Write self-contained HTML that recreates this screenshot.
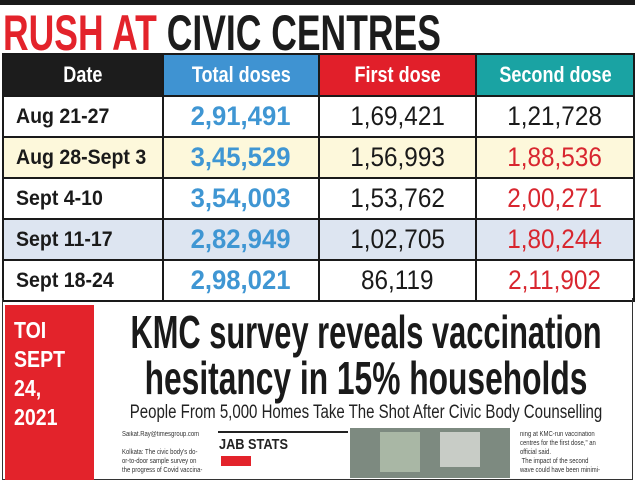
<!DOCTYPE html>
<html><head><meta charset="utf-8"><style>
*{margin:0;padding:0;box-sizing:border-box}
body{width:635px;height:482px;background:#fff;position:relative;overflow:hidden;font-family:"Liberation Sans",sans-serif}
.a{position:absolute}
.t{position:absolute;white-space:nowrap}
.c{position:absolute;white-space:nowrap;width:0}
.c span{position:absolute;left:0;top:0;display:block;white-space:nowrap}
table{position:absolute;left:2px;top:53px;border-collapse:collapse;width:631px;table-layout:fixed}
td{border:2px solid #1a1a1a;height:41px;text-align:center;font-size:27px;padding:0}
td span{display:inline-block;transform:scaleX(0.9)}
td.b span{transform:scaleX(0.95)}
td.d{text-align:left;padding-left:12px;font-weight:bold;font-size:21px;color:#1a1a1a}
td.d span{transform:scaleX(0.93);transform-origin:left}
th{height:42px;color:#fff;font-size:22px;font-weight:bold;border:2px solid #1a1a1a}
th span{display:inline-block;transform:scaleX(0.82)}
.b{color:#3f96d3;font-weight:bold}
.r{color:#d8262f}
.k{color:#1a1a1a}
</style></head><body>
<div class="a" style="left:0;top:0;width:635px;height:5px;background:#1a1a1a"></div>
<div class="t" style="left:3px;top:4px;font-size:50px;font-weight:bold;transform:scaleX(0.71);transform-origin:left"><span style="color:#e3232b">RUSH AT</span> <span style="color:#1c1c1c">CIVIC CENTRES</span></div>
<table>
<tr><th style="background:#1c1c1c;width:160px"><span>Date</span></th><th style="background:#3f93d2;width:156px"><span>Total doses</span></th><th style="background:#e11f2a;width:157px"><span>First dose</span></th><th style="background:#1aa3a3;width:158px"><span>Second dose</span></th></tr>
<tr><td class="d"><span>Aug 21-27</span></td><td class="b"><span>2,91,491</span></td><td class="k"><span>1,69,421</span></td><td class="k"><span>1,21,728</span></td></tr>
<tr style="background:#fdf8db"><td class="d"><span>Aug 28-Sept 3</span></td><td class="b"><span>3,45,529</span></td><td class="k"><span>1,56,993</span></td><td class="r"><span>1,88,536</span></td></tr>
<tr><td class="d"><span>Sept 4-10</span></td><td class="b"><span>3,54,003</span></td><td class="k"><span>1,53,762</span></td><td class="r"><span>2,00,271</span></td></tr>
<tr style="background:#dde5f1"><td class="d"><span>Sept 11-17</span></td><td class="b"><span>2,82,949</span></td><td class="k"><span>1,02,705</span></td><td class="r"><span>1,80,244</span></td></tr>
<tr><td class="d"><span>Sept 18-24</span></td><td class="b"><span>2,98,021</span></td><td class="k"><span>86,119</span></td><td class="r"><span>2,11,902</span></td></tr>
</table>
<div class="a" style="left:2px;top:298px;width:631px;height:182px;border:1px solid #333;border-top:none"></div>
<div class="a" style="left:5px;top:305px;width:89px;height:175px;background:#e3232b"></div>
<div class="t" style="left:14px;top:316px;color:#fff;font-weight:bold;font-size:23px;line-height:29px;transform:scaleX(0.85);transform-origin:left">TOI<br>SEPT<br>24,<br>2021</div>
<div class="c" style="left:366px;top:309px;font-weight:bold;font-size:46px;line-height:46px;color:#1a1a1a"><span style="transform:translateX(-50%) scaleX(0.67)">KMC survey reveals vaccination</span></div>
<div class="c" style="left:366px;top:355px;font-weight:bold;font-size:46px;line-height:46px;color:#1a1a1a"><span style="transform:translateX(-50%) scaleX(0.69)">hesitancy in 15% households</span></div>
<div class="c" style="left:366px;top:402px;font-size:19px;line-height:22px;color:#222"><span style="transform:translateX(-50%) scaleX(0.79)">People From 5,000 Homes Take The Shot After Civic Body Counselling</span></div>
<div class="t" style="left:122px;top:430px;font-size:7px;color:#333;line-height:9px;transform:scaleX(0.85);transform-origin:left">Saikat.Ray@timesgroup.com<br><br>Kolkata: The civic body's do-<br>or-to-door sample survey on<br>the progress of Covid vaccina-</div>
<div class="a" style="left:218px;top:431px;width:130px;height:48px;border-top:2px solid #222"></div>
<div class="t" style="left:219px;top:436px;font-size:15px;font-weight:bold;color:#222;transform:scaleX(0.85);transform-origin:left">JAB STATS</div>
<div class="a" style="left:221px;top:456px;width:30px;height:10px;background:#e3232b"></div>
<div class="a" style="left:350px;top:428px;width:160px;height:50px;background:#7d8a80"></div>
<div class="a" style="left:380px;top:432px;width:40px;height:40px;background:#a9b7a5"></div>
<div class="a" style="left:440px;top:432px;width:40px;height:35px;background:#c8ccc6"></div>
<div class="t" style="left:520px;top:430px;font-size:7px;color:#333;line-height:9px;transform:scaleX(0.85);transform-origin:left">ning at KMC-run vaccination<br>centres for the first dose," an<br>official said.<br>&nbsp;The impact of the second<br>wave could have been minimi-</div>
</body></html>
